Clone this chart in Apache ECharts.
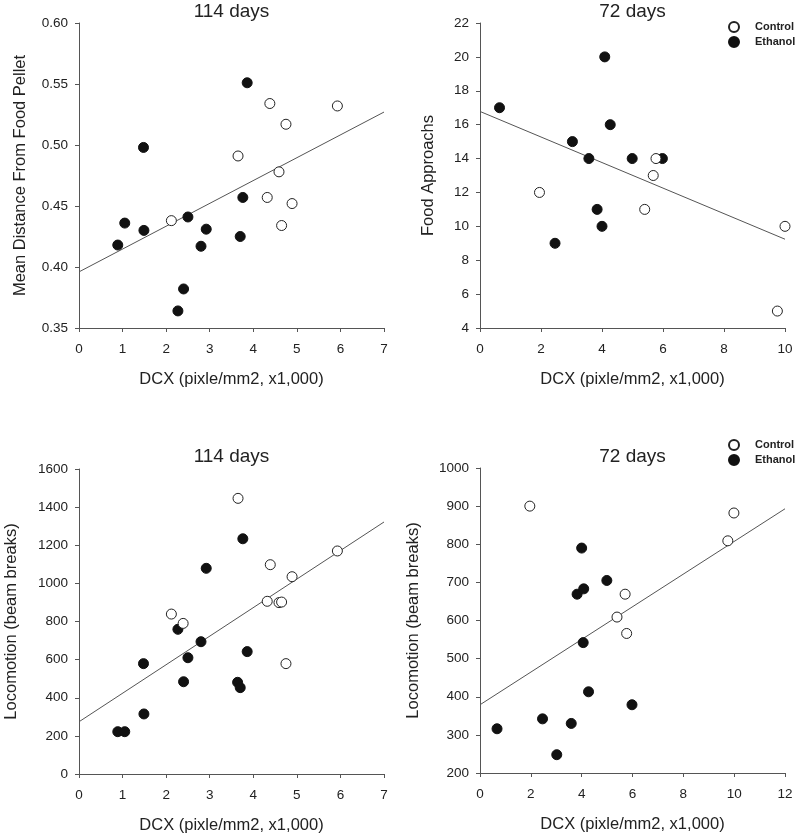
<!DOCTYPE html>
<html>
<head>
<meta charset="utf-8">
<script src="https://cdn.jsdelivr.net/npm/echarts@6/dist/echarts.min.js"></script>
<style>html,body{margin:0;padding:0;background:#fff}#c{width:800px;height:837px}</style>
</head>
<body>
<div id="c"></div>
<script>
// Panel A: 114 days, Mean Distance From Food Pellet
const aEthanol = [[0.89,0.418],[1.05,0.436],[1.48,0.498],[1.49,0.430],[2.27,0.364],[2.40,0.382],[2.50,0.441],[2.80,0.417],[2.92,0.431],[3.70,0.425],[3.76,0.457],[3.86,0.551]];
const aControl = [[2.12,0.438],[3.65,0.491],[4.32,0.457],[4.38,0.534],[4.59,0.478],[4.65,0.434],[4.75,0.517],[4.89,0.452],[5.93,0.532]];
const aFit = [[0,0.396],[7,0.527]];
// Panel B: 72 days, Food Approachs
const bEthanol = [[0.64,17],[2.46,9],[3.03,15],[3.57,14],[3.84,11],[4.0,10],[4.09,20],[4.27,16],[4.99,14],[5.98,14]];
const bControl = [[1.95,12],[5.40,11],[5.68,13],[5.77,14],[9.75,5],[10.0,10]];
const bFit = [[0,16.78],[10,9.24]];
// Panel C: 114 days, Locomotion
const cEthanol = [[0.89,222],[1.05,222],[1.48,579],[1.49,315],[2.27,759],[2.40,484],[2.50,610],[2.80,694],[2.92,1079],[3.64,481],[3.70,453],[3.76,1234],[3.86,642]];
const cControl = [[2.12,839],[2.39,790],[3.65,1446],[4.32,906],[4.39,1098],[4.59,899],[4.65,902],[4.75,579],[4.89,1035],[5.93,1170]];
const cFit = [[0,274],[7,1322]];
// Panel D: 72 days, Locomotion
const dEthanol = [[0.67,316],[2.46,342],[3.02,248],[3.59,330],[3.82,669],[4.0,790],[4.06,542],[4.08,683],[4.27,413],[4.99,705],[5.98,379]];
const dControl = [[1.96,900],[5.39,609],[5.71,669],[5.77,566],[9.75,809],[9.99,882]];
const dFit = [[0,379],[12,893]];

const titles = ['114 days','72 days','114 days','72 days'];
const yNames = ['Mean Distance From Food Pellet','Food Approachs','Locomotion (beam breaks)','Locomotion (beam breaks)'];
const xName = 'DCX (pixle/mm2, x1,000)';
const xRanges = [[0,7,1],[0,10,2],[0,7,1],[0,12,2]];
const yRanges = [[0.35,0.60,0.05],[4,22,2],[0,1600,200],[200,1000,100]];

const FONT = 'Liberation Sans, Arial, sans-serif';
const grids = [
  {left:79, top:23, width:305, height:305},
  {left:480, top:23, width:305, height:305},
  {left:79, top:469, width:305, height:305},
  {left:480, top:468, width:305, height:305}
];
const yGaps = [50, 43, 59, 58];
const axisLine = {show:true, lineStyle:{color:'#555', width:1}};
const axisTick = {show:true, length:4, lineStyle:{color:'#555'}};
const labelStyle = {color:'#222', fontFamily:FONT, fontSize:13.5};

const xAxis = xRanges.map((r,i)=>({
  type:'value', gridIndex:i, min:r[0], max:r[1], interval:r[2],
  name:xName, nameLocation:'middle', nameGap:43,
  nameTextStyle:{color:'#222', fontFamily:FONT, fontSize:16.5},
  axisLine, axisTick, splitLine:{show:false},
  axisLabel:Object.assign({margin:14}, labelStyle)
}));
const yAxis = yRanges.map((r,i)=>({
  type:'value', gridIndex:i, min:r[0], max:r[1], interval:r[2],
  name:yNames[i], nameLocation:'middle', nameGap:yGaps[i],
  nameTextStyle:{color:'#222', fontFamily:FONT, fontSize:16.5},
  axisLine, axisTick, splitLine:{show:false},
  axisLabel:Object.assign({margin:11, formatter: i===0 ? (v)=>v.toFixed(2) : (v)=>String(v)}, labelStyle)
}));

const panels = [[aControl,aEthanol,aFit],[bControl,bEthanol,bFit],[cControl,cEthanol,cFit],[dControl,dEthanol,dFit]];
const series = [];
panels.forEach((p,i)=>{
  series.push({type:'line', xAxisIndex:i, yAxisIndex:i, data:p[2], symbol:'none', silent:true,
    lineStyle:{color:'#555', width:1}, z:1});
  series.push({name:'Ethanol', type:'scatter', xAxisIndex:i, yAxisIndex:i, data:p[1], symbolSize:10,
    itemStyle:{color:'#111', borderColor:'#111', borderWidth:1, opacity:1}, z:3});
  series.push({name:'Control', type:'scatter', xAxisIndex:i, yAxisIndex:i, data:p[0], symbolSize:10,
    itemStyle:{color:'#fff', borderColor:'#222', borderWidth:1, opacity:1}, z:4});
});

const legendBase = {
  orient:'vertical', data:['Control','Ethanol'], itemWidth:10, itemHeight:10, itemGap:3,
  icon:'circle', selectedMode:false, padding:0,
  textStyle:{color:'#222', fontFamily:FONT, fontSize:11, fontWeight:'bold', padding:[0,0,0,11]}
};
const option = {
  animation:false,
  backgroundColor:'#fff',
  title: titles.map((t,i)=>({
    text:t, left: grids[i].left + grids[i].width/2, top: i<2 ? 2 : 447, textAlign:'center', padding:0,
    textStyle:{color:'#222', fontFamily:FONT, fontSize:19, fontWeight:'normal'}
  })),
  legend:[
    Object.assign({left:728, top:21}, legendBase),
    Object.assign({left:728, top:439}, legendBase)
  ],
  grid: grids,
  xAxis, yAxis, series
};
const chart = echarts.init(document.getElementById('c'), null, {renderer:'canvas'});
chart.setOption(option);
</script>
</body>
</html>
